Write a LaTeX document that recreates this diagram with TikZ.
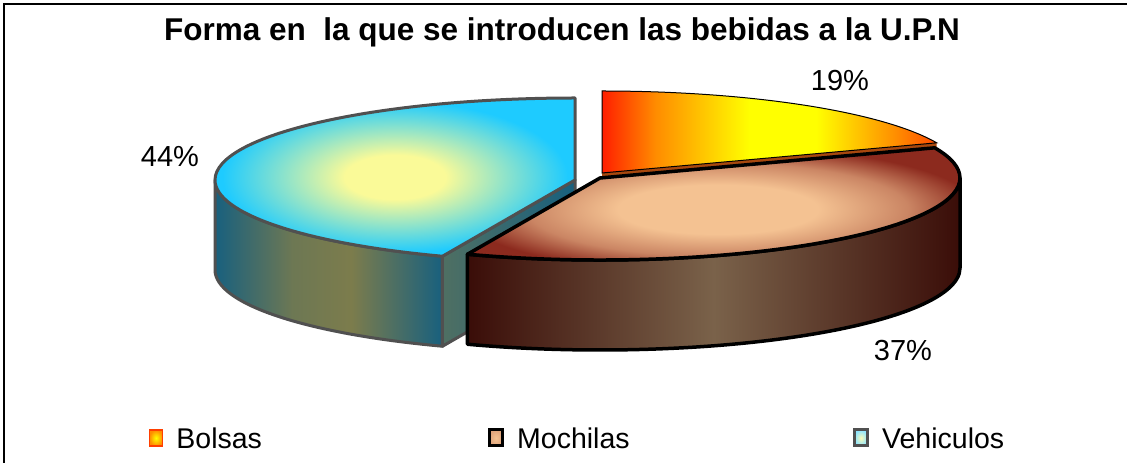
\documentclass[tikz,border=0pt]{standalone}
\usepackage{fontspec}
\setmainfont{Liberation Sans}
\usetikzlibrary{positioning, calc}

\definecolor{bolsared}{HTML}{FF1E00}
\definecolor{bolsaorange}{HTML}{FF8C00}
\definecolor{bolsayellow}{HTML}{FFFF00}
\definecolor{bolsacut}{HTML}{A8480E}
\definecolor{mochilapeach}{HTML}{F4C292}
\definecolor{mochilared}{HTML}{8C2A1E}
\definecolor{mochiladark}{HTML}{3A0D08}
\definecolor{mochilaside}{HTML}{7A624A}
\definecolor{vehiculocyan}{HTML}{1ECBFF}
\definecolor{vehiculoyellow}{HTML}{FAFA98}
\definecolor{vehiculoteal}{HTML}{18607E}
\definecolor{vehiculoolive}{HTML}{7C7C4C}
\definecolor{vehiculoline}{HTML}{505050}

\pgfdeclarehorizontalshading{bolsastop}{100bp}{color(0bp)=(bolsared); color(25bp)=(bolsared); color(33bp)=(bolsaorange); color(47bp)=(bolsayellow); color(57bp)=(bolsayellow); color(69bp)=(bolsaorange); color(75bp)=(bolsared!60!bolsaorange); color(100bp)=(bolsared!60!bolsaorange)}
\pgfdeclarehorizontalshading{vehiculosside}{100bp}{color(0bp)=(vehiculoteal); color(25bp)=(vehiculoteal); color(42bp)=(vehiculoolive!85!vehiculoteal); color(55bp)=(vehiculoolive); color(75bp)=(vehiculoteal); color(100bp)=(vehiculoteal)}
\pgfdeclareradialshading{mochilastop}{\pgfpoint{0bp}{0bp}}{color(0bp)=(mochilapeach); color(10bp)=(mochilapeach); color(19bp)=(mochilapeach!60!mochilared); color(26bp)=(mochilared); color(50bp)=(mochilared)}
\pgfdeclareradialshading{vehiculostop}{\pgfpoint{0bp}{0bp}}{color(0bp)=(vehiculoyellow); color(7bp)=(vehiculoyellow); color(24bp)=(vehiculocyan); color(50bp)=(vehiculocyan)}

\newcommand{\rx}{360pt}
\newcommand{\ry}{82pt}

\begin{document}
\begin{tikzpicture}[x=1pt, y=1pt, node distance=12pt,
    pct/.style={font=\fontsize{29}{34}\selectfont},
    legbox/.style={draw, minimum width=13pt, minimum height=16pt, inner sep=0pt},
    legtext/.style={inner sep=1pt, font=\fontsize{28.5}{34}\selectfont},
    mochilaline/.style={draw=black, line width=3.5pt, line join=round},
    vehiculoline/.style={draw=vehiculoline, line width=3pt, line join=round}]
    \useasboundingbox (0,0) rectangle (1127,463);
    \draw[line width=2pt] (4,-20) -- (4,459) -- (1140,459);

    \node[font=\bfseries\fontsize{31.5}{38}\selectfont] (title) at (562,431) {Forma en\ \ la que se introducen las bebidas a la U.P.N};

    \coordinate (B) at (602,290);
    \coordinate (V) at (575,283);
    \coordinate (M) at (600,285);
    \coordinate (bedge) at ($(B)+(21.6:360 and 82)$);
    \coordinate (vedge) at ($(V)+(248.4:360 and 82)$);
    \coordinate (medge) at ($(M)+(-111.6:360 and 82)$);

    % Bolsas
    \fill[bolsacut] (B) -- (bedge) -- ++(0,-90) -- ($(B)+(0,-90)$) -- cycle;
    \shade[shading=bolsastop, draw=black, line width=1pt] (B) -- ++(0,82)
        arc[start angle=90, end angle=21.6, x radius=\rx, y radius=\ry] -- cycle;

    % Vehiculos
    \shade[shading=vehiculosside, vehiculoline]
        ($(V)+(-360,0)$) arc[start angle=180, end angle=248.4, x radius=\rx, y radius=\ry]
        -- ++(0,-90) arc[start angle=248.4, end angle=180, x radius=\rx, y radius=\ry] -- cycle;
    \shade[left color=vehiculoolive!55!vehiculoteal, right color=vehiculoteal, vehiculoline]
        (V) -- (vedge) -- ++(0,-90) -- ($(V)+(0,-90)$) -- cycle;
    \shade[shading=vehiculostop, vehiculoline] (V) -- ++(0,82)
        arc[start angle=90, end angle=248.4, x radius=\rx, y radius=\ry] -- cycle;

    % Mochilas
    \shade[left color=mochiladark, right color=mochiladark, middle color=mochilaside, mochilaline]
        (medge) arc[start angle=-111.6, end angle=0, x radius=\rx, y radius=\ry]
        -- ++(0,-90) arc[start angle=0, end angle=-111.6, x radius=\rx, y radius=\ry] -- cycle;
    \shade[shading=mochilastop, mochilaline] (M) -- (medge)
        arc[start angle=-111.6, end angle=21.6, x radius=\rx, y radius=\ry] -- cycle;

    \node[pct] (p19) at (840,382) {19\%};
    \node[pct] (p44) at (170,306) {44\%};
    \node[pct] (p37) at (903,112) {37\%};

    \node[legbox, draw=bolsared!70!bolsaorange, line width=1.5pt, inner color=bolsayellow, outer color=bolsaorange] (kbolsas) at (156,25) {};
    \node[legtext, right=of kbolsas] (tbolsas) {Bolsas};
    \node[legbox, draw=black, line width=3pt, inner color=mochilapeach, outer color=mochilapeach!80!mochilared] (kmochilas) at (496,25) {};
    \node[legtext, right=of kmochilas] (tmochilas) {Mochilas};
    \node[legbox, draw=vehiculoline, line width=3pt, inner color=vehiculoyellow!70!white, outer color=vehiculocyan!50!white] (kvehiculos) at (861,25) {};
    \node[legtext, right=of kvehiculos] (tvehiculos) {Vehiculos};
\end{tikzpicture}
\end{document}
